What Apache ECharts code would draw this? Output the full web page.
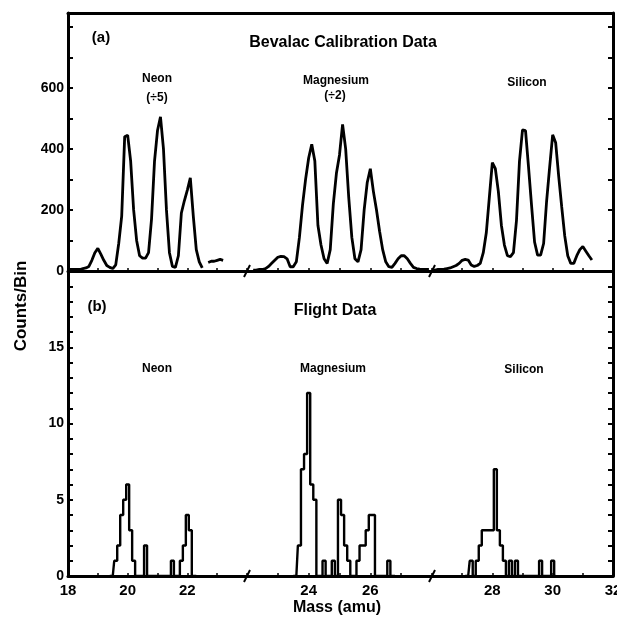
<!DOCTYPE html>
<html><head><meta charset="utf-8">
<script src="https://cdn.jsdelivr.net/npm/echarts@6/dist/echarts.min.js"></script>
<style>html,body{margin:0;padding:0;background:#fff}#chart{width:617px;height:621px}</style>
</head><body><div id="chart"></div>
<script>
// ---------- data ----------
const binWidth = 0.1;
const segRanges = [[18, 24], [22, 28], [26, 32]];
const segTickLabels = [[18, 20, 22], [24, 26], [28, 30, 32]];
const calYTickLabels = [0, 200, 400, 600];
const flightYTickLabels = [0, 5, 10, 15];
const calYMax = 845;
const flightYMax = 20;

// (a) Bevalac calibration data, counts per 0.1 amu bin (Neon ÷5, Magnesium ÷2)
const neonCalStart = 18.0;
const neonCalCounts = [5, 5, 5, 5, 5, 8, 10, 15, 35, 60, 74, 55, 35, 18, 12, 8, 20, 90, 180, 440,
  445, 360, 200, 100, 50, 42, 42, 60, 170, 360, 460, 505, 400, 200, 60, 15, 12, 50, 190, 230,
  265, 305, 180, 70, 30, 10, null, 28, 32, 32, 35, 38, 35];
const mgCalStart = 22.2;
const mgCalCounts = [3, 3, 5, 5, 8, 15, 25, 35, 45, 48, 47, 40, 14, 14, 30, 110, 215, 300, 370, 415,
  360, 150, 85, 40, 25, 70, 220, 320, 380, 480, 400, 240, 110, 40, 30, 70, 200, 290, 335, 260,
  200, 130, 70, 30, 14, 12, 25, 40, 50, 50, 40, 25, 12, 8, 6, 5, 5, 5];
const siCalStart = 26.0;
const siCalCounts = [3, 3, 5, 5, 6, 8, 10, 14, 18, 25, 35, 38, 36, 20, 15, 18, 25, 60, 125, 240,
  355, 335, 260, 150, 85, 50, 47, 60, 165, 360, 462, 460, 340, 215, 95, 52, 52, 90, 230, 340,
  446, 420, 310, 210, 115, 50, 25, 25, 50, 70, 80, 65, 50, 36];

// (b) Flight data, counts per 0.1 amu bin
const neonFlightStart = 19.4;
const neonFlightCounts = [0, 0, 1, 2, 4, 5, 6, 3, 1, 0, 0, 0, 2, 0, 0, 0, 0, 0, 0, 0,
  0, 1, 0, 0, 1, 2, 4, 3, 0, 0];
const mgFlightStart = 23.5;
const mgFlightCounts = [0, 0, 2, 7, 8, 12, 6, 5, 0, 0, 1, 0, 0, 1, 0, 5, 4, 2, 1, 0,
  0, 1, 2, 2, 3, 4, 4, 0, 0, 0, 0, 1, 0, 0];
const siFlightStart = 27.1;
const siFlightCounts = [0, 0, 1, 0, 1, 2, 3, 3, 3, 3, 7, 3, 2, 1, 0, 1, 0, 1, 0, 0,
  0, 0, 0, 0, 0, 1, 0, 0, 0, 1, 0];

const panelLabels = ['(a)', '(b)'];
const panelTitles = ['Bevalac Calibration Data', 'Flight Data'];
const elementNames = ['Neon', 'Magnesium', 'Silicon'];
const calScaleNotes = ['(÷5)', '(÷2)', ''];
const xAxisTitle = 'Mass (amu)';
const yAxisTitle = 'Counts/Bin';

// ---------- layout (pixels) ----------
const segEdges = [68, 247, 432, 613];
const panelEdges = [13, 271, 576];
const FONT = 'Liberation Sans';
const INK = '#000';

function toPairs(start, counts) {
  return counts.map((c, i) => [+(start + i * binWidth).toFixed(2), c === null ? '-' : c]);
}

const calSets = [[neonCalStart, neonCalCounts], [mgCalStart, mgCalCounts], [siCalStart, siCalCounts]];
const flightSets = [[neonFlightStart, neonFlightCounts], [mgFlightStart, mgFlightCounts], [siFlightStart, siFlightCounts]];

const grids = [], xAxes = [], yAxes = [], series = [];
for (let p = 0; p < 2; p++) {
  for (let s = 0; s < 3; s++) {
    const g = p * 3 + s;
    grids.push({
      left: segEdges[s], width: segEdges[s + 1] - segEdges[s],
      top: panelEdges[p], height: panelEdges[p + 1] - panelEdges[p],
      containLabel: false, outerBoundsMode: 'none'
    });
    const labels = segTickLabels[s];
    xAxes.push({
      type: 'value', gridIndex: g, min: segRanges[s][0], max: segRanges[s][1], interval: 1,
      axisLine: { show: true, onZero: false, lineStyle: { color: INK, width: 3 } },
      axisTick: { show: true, inside: true, length: 3, lineStyle: { color: INK, width: 1.5 } },
      axisLabel: {
        show: p === 1, margin: 7, color: INK, fontFamily: FONT, fontWeight: 'bold', fontSize: 15,
        formatter: v => labels.indexOf(v) >= 0 ? String(v) : ''
      },
      splitLine: { show: false }
    });
    const isCal = p === 0;
    const yLabels = isCal ? calYTickLabels : flightYTickLabels;
    yAxes.push({
      type: 'value', gridIndex: g, min: 0, max: isCal ? calYMax : flightYMax,
      interval: isCal ? 100 : 1,
      position: s === 2 ? 'right' : 'left',
      show: s !== 1,
      axisLine: { show: true, onZero: false, lineStyle: { color: INK, width: 3 } },
      axisTick: { show: true, inside: true, length: 5, lineStyle: { color: INK, width: 2 } },
      axisLabel: {
        show: s === 0, margin: 4, color: INK, fontFamily: FONT, fontWeight: 'bold', fontSize: 14,
        formatter: v => yLabels.indexOf(v) >= 0 ? String(v) : ''
      },
      splitLine: { show: false }
    });
    const set = isCal ? calSets[s] : flightSets[s];
    series.push({
      type: 'line', xAxisIndex: g, yAxisIndex: g,
      data: toPairs(set[0], set[1]),
      step: isCal ? false : 'middle',
      showSymbol: false, connectNulls: false,
      lineStyle: { color: INK, width: isCal ? 2.8 : 2.4 },
      silent: true
    });
  }
}
// top border of panel (a)
for (let s = 0; s < 3; s++) {
  xAxes.push({
    type: 'value', gridIndex: s, position: 'top', min: segRanges[s][0], max: segRanges[s][1],
    axisLine: { show: true, onZero: false, lineStyle: { color: INK, width: 3 } },
    axisTick: { show: false }, axisLabel: { show: false }, splitLine: { show: false }
  });
}

const txt = (text, x, y, size, extra) => Object.assign({
  type: 'text', x: x, y: y, silent: true,
  style: { text: text, fill: INK, font: 'bold ' + size + 'px "' + FONT + '"', textAlign: 'center', textVerticalAlign: 'middle' }
}, extra || {});

const graphics = [
  txt(panelLabels[0], 101, 38, 15),
  txt(panelTitles[0], 343, 43, 16),
  txt(elementNames[0], 157, 79, 12), txt(calScaleNotes[0], 157, 98, 12),
  txt(elementNames[1], 336, 81, 12), txt(calScaleNotes[1], 335, 96, 12),
  txt(elementNames[2], 527, 83, 12),
  txt(panelLabels[1], 97, 307, 15),
  txt(panelTitles[1], 335, 311, 16),
  txt(elementNames[0], 157, 369, 12),
  txt(elementNames[1], 333, 369, 12),
  txt(elementNames[2], 524, 370, 12),
  txt(xAxisTitle, 337, 608, 16),
  txt(yAxisTitle, 21, 306, 17, { rotation: Math.PI / 2 })
];
// axis-break marks
[1, 2].forEach(i => {
  [1, 2].forEach(j => {
    graphics.push({
      type: 'line', silent: true,
      shape: { x1: segEdges[i] - 3, y1: panelEdges[j] + 6, x2: segEdges[i] + 3, y2: panelEdges[j] - 6 },
      style: { stroke: INK, lineWidth: 2 }
    });
  });
});

const chart = echarts.init(document.getElementById('chart'), null, { renderer: 'canvas' });
chart.setOption({
  animation: false,
  backgroundColor: '#fff',
  grid: grids, xAxis: xAxes, yAxis: yAxes, series: series,
  graphic: graphics
});
</script>
</body></html>
